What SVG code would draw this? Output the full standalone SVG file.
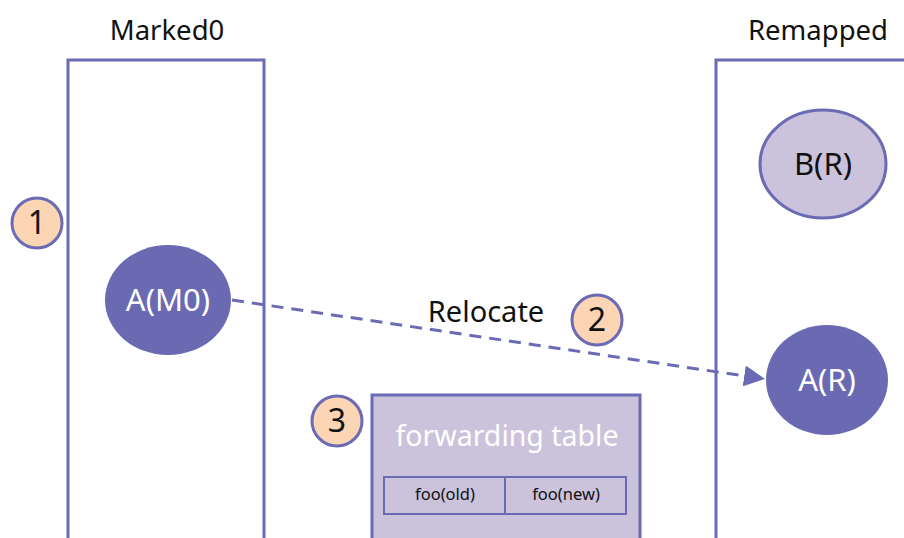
<svg xmlns="http://www.w3.org/2000/svg" width="904" height="538" viewBox="0 0 904 538">
  <style>
    .title { font-family: "Noto Sans", "Open Sans", sans-serif; font-size: 27.5px; fill: #111; text-anchor: middle; }
    .region { fill: none; stroke: #6b6bb5; stroke-width: 3; }
    .obj-dark { fill: #6a6ab3; }
    .obj-light { fill: #cbc2dc; stroke: #6b6bb5; stroke-width: 3; }
    .obj-text-w { font-family: "Noto Sans", "Open Sans", sans-serif; font-size: 31px; fill: #fff; text-anchor: middle; }
    .obj-text-k { font-family: "Noto Sans", "Open Sans", sans-serif; font-size: 31px; fill: #111; text-anchor: middle; }
    .table-title { font-family: "Noto Sans", "Open Sans", sans-serif; font-size: 28.5px; fill: #fff; text-anchor: middle; }
    .step { fill: #fcd5b4; stroke: #6b6bb5; stroke-width: 3; }
    .step-text { font-family: "Noto Sans", "Open Sans", sans-serif; font-size: 32px; fill: #111; text-anchor: middle; }
    .cell { fill: none; stroke: #6b6bb5; stroke-width: 2; }
    .cell-text { font-family: "Noto Sans", "Open Sans", sans-serif; font-size: 16.5px; fill: #111; text-anchor: middle; }
    .edge { fill: none; stroke: #6b6bb5; stroke-width: 3; stroke-dasharray: 12 8; }
    .label { font-family: "Noto Sans", "Open Sans", sans-serif; font-size: 29px; fill: #111; text-anchor: middle; }
  </style>
  <defs>
    <marker id="arrow" viewBox="0 0 10 10" refX="10" refY="5" markerWidth="7" markerHeight="7" markerUnits="strokeWidth" orient="auto">
      <path d="M0,0 L10,5 L0,10 z" fill="#6b6bb5"/>
    </marker>
  </defs>
  <rect width="904" height="538" fill="#fff"/>

  <!-- Marked0 region -->
  <g id="marked0">
    <text class="title" x="167" y="40">Marked0</text>
    <rect class="region" x="68" y="60" width="196" height="500"/>
  </g>

  <!-- Remapped region -->
  <g id="remapped">
    <text class="title" x="818" y="40">Remapped</text>
    <rect class="region" x="716" y="60" width="220" height="500"/>
  </g>

  <!-- connectors -->
  <g id="connectors">
    <line class="edge" x1="232" y1="300" x2="765" y2="379" marker-end="url(#arrow)"/>
    <text class="label" x="486" y="322">Relocate</text>
  </g>

  <g id="step1">
    <circle class="step" cx="37" cy="223" r="25"/>
    <text class="step-text" x="37" y="234">1</text>
  </g>

  <g id="step2">
    <circle class="step" cx="597" cy="320" r="25"/>
    <text class="step-text" x="597" y="331">2</text>
  </g>

  <g id="step3">
    <circle class="step" cx="337" cy="421" r="25"/>
    <text class="step-text" x="337" y="432">3</text>
  </g>

  <g id="a-m0">
    <ellipse class="obj-dark" cx="168" cy="300" rx="63" ry="55"/>
    <text class="obj-text-w" x="168" y="311">A(M0)</text>
  </g>

  <g id="b-r">
    <ellipse class="obj-light" cx="823" cy="164" rx="63" ry="54"/>
    <text class="obj-text-k" x="823" y="175">B(R)</text>
  </g>

  <g id="a-r">
    <ellipse class="obj-dark" cx="827" cy="380" rx="61" ry="55"/>
    <text class="obj-text-w" x="827" y="391">A(R)</text>
  </g>

  <g id="forwarding-table">
    <rect class="obj-light" x="372" y="395" width="268" height="170"/>
    <text class="table-title" x="507" y="446">forwarding table</text>
    <rect class="cell" x="384" y="477" width="242" height="37"/>
    <line class="cell" x1="505" y1="477" x2="505" y2="514"/>
    <text class="cell-text" x="445" y="500">foo(old)</text>
    <text class="cell-text" x="566" y="500">foo(new)</text>
  </g>
</svg>
